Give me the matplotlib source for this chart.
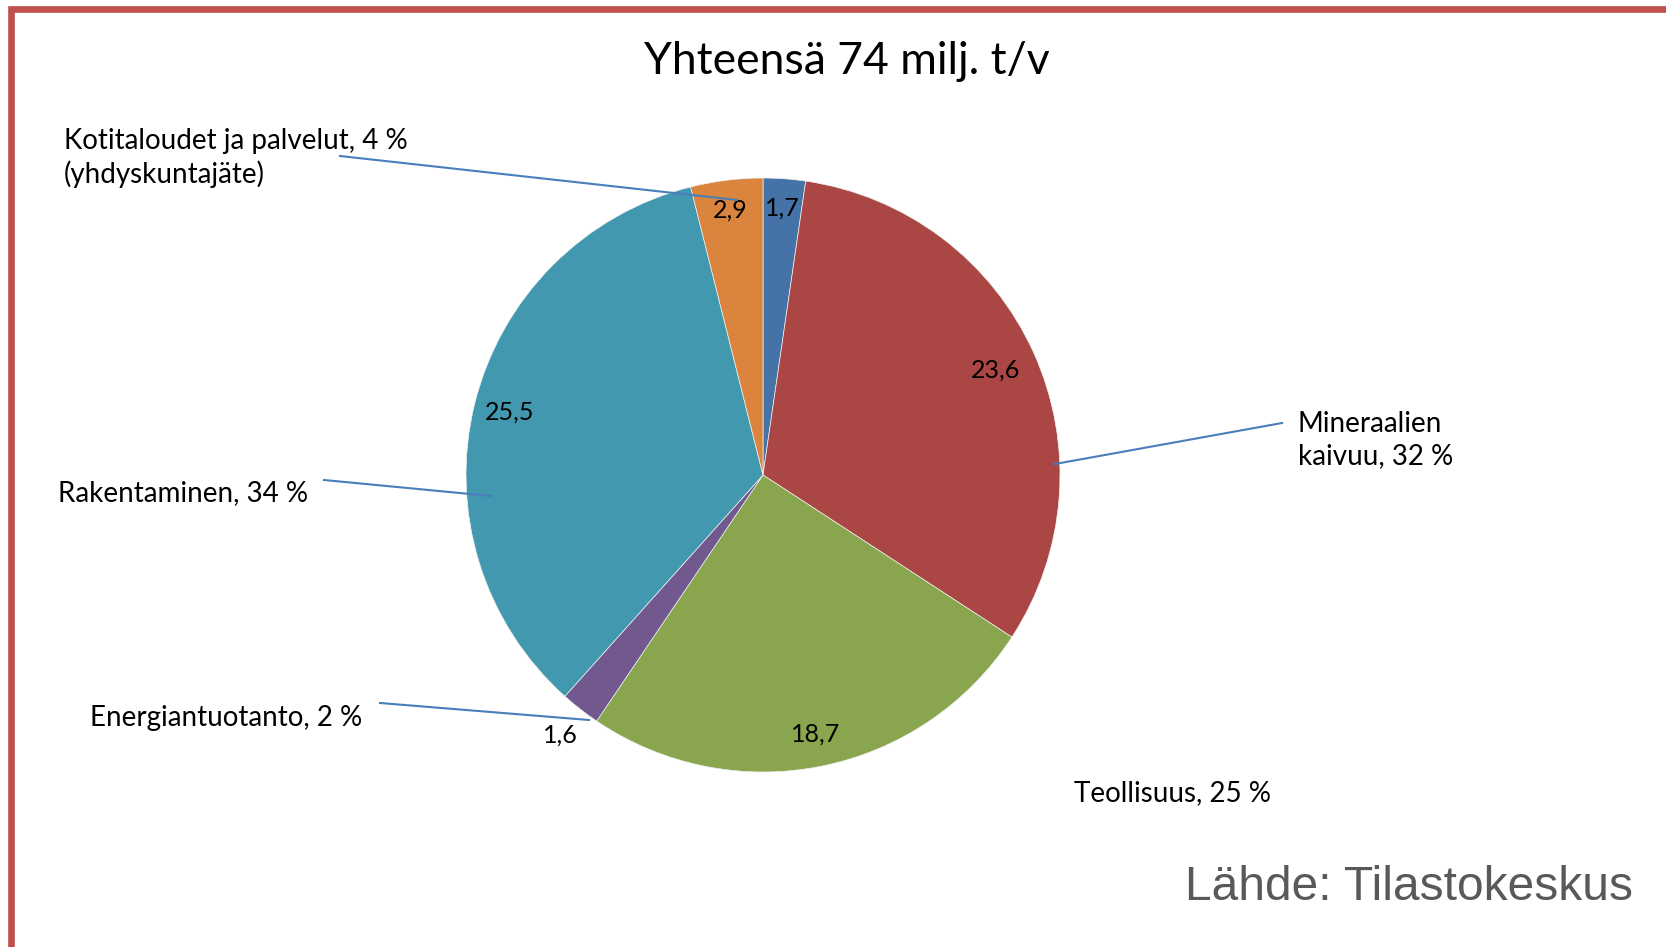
import matplotlib
matplotlib.use("Agg")
import matplotlib.pyplot as plt
from matplotlib.lines import Line2D
from matplotlib.patches import Rectangle
import numpy as np

W, H = 1666, 947

# data (milj. t/v), clockwise from 12 o'clock
values = [1.7, 23.6, 18.7, 1.6, 25.5, 2.9]
value_labels = ["1,7", "23,6", "18,7", "1,6", "25,5", "2,9"]
categories = ["", "Mineraalien\nkaivuu, 32 %", "Teollisuus, 25 %",
              "Energiantuotanto, 2 %", "Rakentaminen, 34 %",
              "Kotitaloudet ja palvelut, 4 %\n(yhdyskuntajäte)"]
colors = ["#4572A7", "#AA4643", "#89A54E", "#71588F", "#4198AF", "#DB843D"]
label_dist = [0.9, 0.86, 0.89, 1.11, 0.88, 0.9]

plt.rcParams['font.family'] = ['Lato', 'DejaVu Sans']


def fx(x):
    return x / W


def fy(y):
    return 1 - y / H


fig = plt.figure(figsize=(W / 100, H / 100), dpi=100)

# pie axes: center (763, 475), radius 297 px
cx, cy, r = 763, 475, 297
ax = fig.add_axes([fx(cx - r), fy(cy + r), 2 * r / W, 2 * r / H])
wedges, _ = ax.pie(values, colors=colors, startangle=90, counterclock=False,
                   radius=1, wedgeprops=dict(linewidth=0.5, edgecolor="#f0f0f0"))
ax.set_xlim(-1, 1)
ax.set_ylim(-1, 1)
ax.set_aspect("equal")
ax.axis("off")

for w, lab, d in zip(wedges, value_labels, label_dist):
    ang = np.deg2rad((w.theta1 + w.theta2) / 2)
    ax.text(d * np.cos(ang), d * np.sin(ang), lab, ha="center", va="center",
            fontsize=18, color="black")

# category labels (pixel positions from the layout)
cat_pos = [None, (1298, 440), (1074, 793), (90, 718), (58, 493), (64, 158)]
for cat, pos in zip(categories, cat_pos):
    if pos is None:
        continue
    x, y = pos
    fig.text(fx(x), fy(y), cat, ha="left", va="center", fontsize=20,
             linespacing=1.3, color="black")

# leader lines
leaders = [((340, 156), (737, 200)), ((1282, 423), (1055, 464)),
           ((324, 480), (491, 496)), ((380, 703), (589, 720))]
for (x0, y0), (x1, y1) in leaders:
    fig.add_artist(Line2D([fx(x0), fx(x1)], [fy(y0), fy(y1)],
                          color="#4A7EBB", lw=1.5, transform=fig.transFigure))

fig.text(fx(847), fy(61), "Yhteensä 74 milj. t/v", ha="center", va="center",
         fontsize=32, color="black")
fig.text(fx(1633), fy(887), "Lähde: Tilastokeskus", ha="right", va="center",
         fontsize=34.5, color="#595959", family=["Liberation Sans", "DejaVu Sans"])

# red frame (top and left edges visible)
fig.add_artist(Rectangle((fx(11), fy(H + 50)), 1.2, fy(8.5) - fy(H + 50),
                         fill=False, edgecolor="#C0504D", lw=4.8,
                         transform=fig.transFigure, clip_on=False))

fig.savefig("out.png", dpi=100)
